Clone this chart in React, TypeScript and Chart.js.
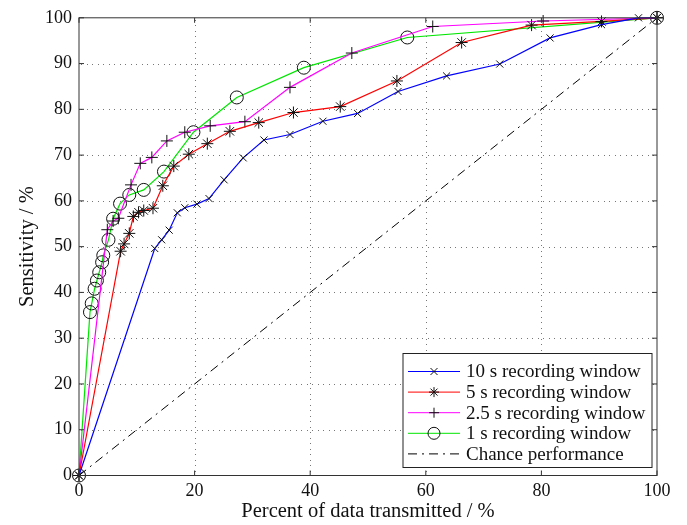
import React, { useEffect, useRef } from "react";
import { Chart, registerables } from "chart.js";
Chart.register(...registerables);

const seriesLabels = [
  "10 s recording window",
  "5 s recording window",
  "2.5 s recording window",
  "1 s recording window",
  "Chance performance",
];

const tenX = [0, 13.1, 14.3, 15.6, 17.0, 18.3, 20.4, 22.5, 25.1, 28.4, 32.0, 36.5, 42.2, 48.2, 55.2, 63.6, 72.8, 81.5, 90.4, 96.8, 100];
const tenY = [0, 49.6, 51.5, 53.6, 57.4, 58.5, 59.3, 60.5, 64.6, 69.4, 73.3, 74.5, 77.4, 79.1, 83.9, 87.3, 89.9, 95.6, 98.5, 100, 100];

const fiveX = [0, 7.2, 7.8, 8.7, 9.4, 10.3, 11.2, 12.8, 14.5, 16.4, 19.0, 22.2, 26.1, 31.1, 37.1, 45.2, 55.0, 66.2, 78.3, 90.4, 100];
const fiveY = [0, 49.0, 50.6, 52.9, 56.6, 57.5, 57.9, 58.4, 63.3, 67.6, 70.2, 72.5, 75.2, 77.1, 79.3, 80.6, 86.2, 94.6, 98.4, 99.2, 100];

const twoHalfX = [0, 4.9, 5.9, 6.8, 9.0, 10.6, 12.6, 15.2, 18.3, 22.7, 28.7, 36.5, 47.2, 61.2, 80.3, 100];
const twoHalfY = [0, 53.7, 55.6, 56.2, 63.5, 68.2, 69.5, 73.1, 75.0, 76.4, 77.3, 84.8, 92.3, 98.1, 99.3, 100];

const oneX = [0, 1.9, 2.2, 2.7, 3.1, 3.5, 4.0, 4.2, 5.1, 5.9, 7.1, 8.7, 11.2, 14.7, 19.8, 27.3, 38.9, 56.8, 100];
const oneY = [0, 35.7, 37.6, 40.8, 42.6, 44.4, 46.6, 48.1, 51.5, 56.1, 59.4, 61.3, 62.4, 66.4, 75.0, 82.6, 89.1, 95.7, 100];

const chanceX = [0, 100];
const chanceY = [0, 100];

const xTicks = [0, 20, 40, 60, 80, 100];
const yTicks = [0, 10, 20, 30, 40, 50, 60, 70, 80, 90, 100];

const FONT = "'Liberation Serif', 'DejaVu Serif', serif";
const colors = ["#0000ff", "#ff0000", "#ff00ff", "#00e600", "#000000"];
const markers = ["crossRot", "star", "cross", "circle", "none"];

const pts = (xs: number[], ys: number[]) => xs.map((x, i) => ({ x, y: ys[i] }));

function drawMarker(ctx: CanvasRenderingContext2D, style: string, x: number, y: number, r: number) {
  ctx.beginPath();
  if (style === "circle") {
    ctx.arc(x, y, r, 0, Math.PI * 2);
  } else {
    if (style === "cross" || style === "star") {
      ctx.moveTo(x - r, y); ctx.lineTo(x + r, y);
      ctx.moveTo(x, y - r); ctx.lineTo(x, y + r);
    }
    if (style === "crossRot" || style === "star") {
      const k = r * 0.7;
      ctx.moveTo(x - k, y - k); ctx.lineTo(x + k, y + k);
      ctx.moveTo(x - k, y + k); ctx.lineTo(x + k, y - k);
    }
  }
  ctx.stroke();
}

const gridPlugin = {
  id: "dottedGrid",
  beforeDatasetsDraw(chart: any) {
    const { ctx, chartArea: a, scales } = chart;
    ctx.save();
    ctx.fillStyle = "#777";
    xTicks.slice(1, -1).forEach((t) => {
      const px = Math.round(scales.x.getPixelForValue(t));
      for (let y = a.top + 2; y < a.bottom; y += 5.5) ctx.fillRect(px, Math.round(y), 1, 1);
    });
    yTicks.slice(1, -1).forEach((t) => {
      const py = Math.round(scales.y.getPixelForValue(t));
      for (let x = a.left + 2; x < a.right; x += 5.5) ctx.fillRect(Math.round(x), py, 1, 1);
    });
    ctx.restore();
  },
};

const framePlugin = {
  id: "frameAndLegend",
  afterDraw(chart: any) {
    const { ctx, chartArea: a, scales } = chart;
    ctx.save();
    ctx.strokeStyle = "#333";
    ctx.lineWidth = 1;
    ctx.setLineDash([]);
    ctx.strokeRect(a.left, a.top, a.right - a.left, a.bottom - a.top);
    const tl = 5;
    ctx.beginPath();
    xTicks.forEach((t) => {
      const px = scales.x.getPixelForValue(t);
      ctx.moveTo(px, a.bottom); ctx.lineTo(px, a.bottom - tl);
      ctx.moveTo(px, a.top); ctx.lineTo(px, a.top + tl);
    });
    yTicks.forEach((t) => {
      const py = scales.y.getPixelForValue(t);
      ctx.moveTo(a.left, py); ctx.lineTo(a.left + tl, py);
      ctx.moveTo(a.right, py); ctx.lineTo(a.right - tl, py);
    });
    ctx.stroke();

    // legend
    const bx = a.right - 254, by = a.bottom - 122, bw = 249, bh = 114;
    ctx.fillStyle = "#fff";
    ctx.fillRect(bx, by, bw, bh);
    ctx.strokeStyle = "#222";
    ctx.strokeRect(bx, by, bw, bh);
    ctx.font = `19px ${FONT}`;
    ctx.textBaseline = "middle";
    seriesLabels.forEach((lab, i) => {
      const cy = by + 18 + i * 20.6;
      ctx.strokeStyle = colors[i];
      ctx.lineWidth = 1;
      if (i === 4) ctx.setLineDash([9, 5, 2, 5]); else ctx.setLineDash([]);
      ctx.beginPath();
      ctx.moveTo(bx + 5, cy); ctx.lineTo(bx + 57, cy);
      ctx.stroke();
      ctx.setLineDash([]);
      if (markers[i] !== "none") {
        ctx.strokeStyle = "#111";
        drawMarker(ctx, markers[i], bx + 31, cy, markers[i] === "circle" ? 6 : 5);
      }
      ctx.fillStyle = "#111";
      ctx.fillText(lab, bx + 63, cy + 1);
    });
    ctx.restore();
  },
};

export default function App() {
  const ref = useRef<HTMLCanvasElement | null>(null);
  useEffect(() => {
    if (!ref.current) return;
    const mk = (i: number, xs: number[], ys: number[], radius: number) => ({
      label: seriesLabels[i],
      data: pts(xs, ys),
      borderColor: colors[i],
      borderWidth: 1.2,
      pointStyle: markers[i] === "none" ? false : markers[i],
      pointRadius: radius,
      pointBorderColor: "#111",
      pointBackgroundColor: "rgba(0,0,0,0)",
      pointBorderWidth: 1,
      showLine: true,
      tension: 0,
      clip: false,
    });
    const chart = new Chart(ref.current, {
      type: "scatter",
      data: {
        datasets: [
          { ...mk(4, chanceX, chanceY, 0), borderDash: [9, 5, 2, 5], borderWidth: 1 },
          mk(0, tenX, tenY, 5),
          mk(1, fiveX, fiveY, 6),
          mk(2, twoHalfX, twoHalfY, 6),
          mk(3, oneX, oneY, 6.5),
        ],
      },
      options: {
        animation: false,
        responsive: false,
        maintainAspectRatio: false,
        layout: { padding: { left: 0, right: 30, top: 17, bottom: 0 } },
        plugins: { legend: { display: false }, tooltip: { enabled: false } },
        scales: {
          x: {
            type: "linear",
            min: 0,
            max: 100,
            afterFit: (s: any) => { s.height = 49.5; },
            afterBuildTicks: (s: any) => { s.ticks = xTicks.map((v) => ({ value: v })); },
            ticks: { color: "#111", padding: 5, font: { family: FONT, size: 18 } },
            grid: { display: false, drawTicks: false },
            border: { display: false },
            title: {
              display: true,
              text: "Percent of data transmitted / %",
              color: "#111",
              font: { family: FONT, size: 20.5 },
              padding: { top: 0, bottom: 1 },
            },
          },
          y: {
            type: "linear",
            min: 0,
            max: 100,
            afterFit: (s: any) => { s.width = 79; },
            afterBuildTicks: (s: any) => { s.ticks = yTicks.map((v) => ({ value: v })); },
            ticks: { color: "#111", padding: 7, font: { family: FONT, size: 18 } },
            grid: { display: false, drawTicks: false },
            border: { display: false },
            title: {
              display: true,
              text: "Sensitivity / %",
              color: "#111",
              font: { family: FONT, size: 20.5 },
              padding: { top: 15, bottom: 0 },
            },
          },
        },
      },
      plugins: [gridPlugin, framePlugin],
    } as any);
    return () => chart.destroy();
  }, []);
  return (
    <div style={{ position: "fixed", left: 0, top: 0, width: 687, height: 525, background: "#fff" }}>
      <canvas ref={ref} width={687} height={525} style={{ width: 687, height: 525 }} />
    </div>
  );
}
